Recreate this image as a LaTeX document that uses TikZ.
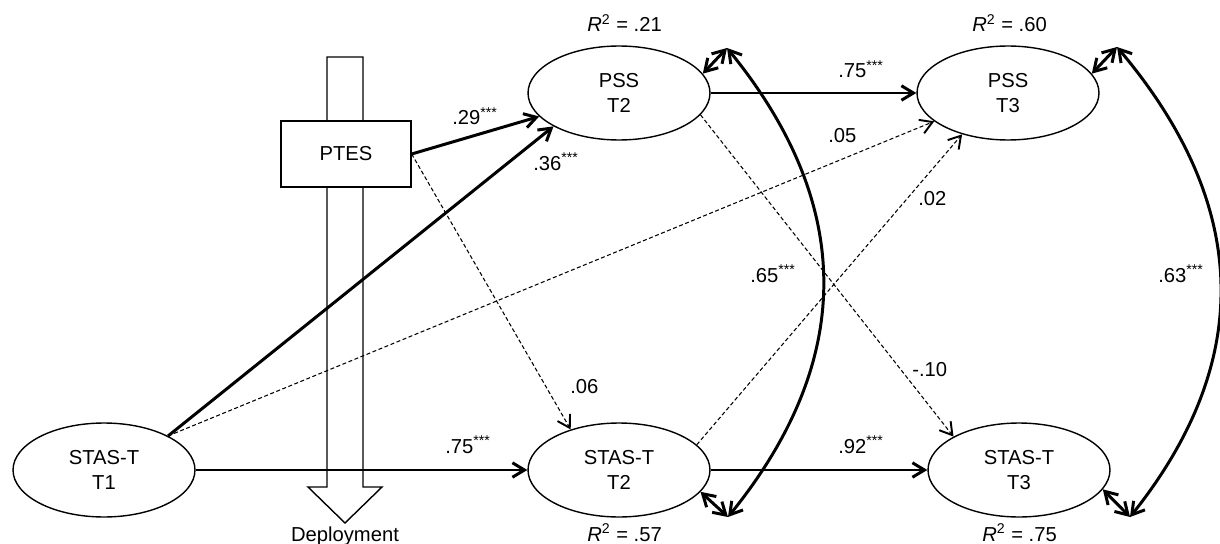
\documentclass[tikz,border=0pt]{standalone}
\usepackage{fontspec}
\setmainfont{Liberation Sans}
\usetikzlibrary{shapes.geometric, arrows.meta}

\begin{document}
\begin{tikzpicture}[x=0.02cm, y=-0.02cm,
    >={Straight Barb[length=2.4mm,width=2.9mm]},
    latent/.style={ellipse, draw, line width=0.8pt, minimum width=3.64cm,
        minimum height=1.88cm, inner sep=0pt, align=center,
        font=\fontsize{11.5}{14.2}\selectfont},
    hop/.style={draw, fill=white, line width=0.8pt, minimum width=2.6cm,
        minimum height=1.32cm, font=\fontsize{11.5}{13}\selectfont},
    strong/.style={->, line width=1.7pt},
    weak/.style={-{Straight Barb[length=2.4mm,width=2.9mm,line width=1.1pt]},
        line width=0.6pt, dash pattern=on 0.08cm off 0.05cm},
    cov/.style={<->, line width=1.7pt},
    coef/.style={anchor=base west, inner sep=0pt, font=\fontsize{11.5}{13}\selectfont}]
    \useasboundingbox (0,0) rectangle (1220,544);

    % Mũi tên khối
    \draw[line width=0.8pt] (327,57) -- (363,57) -- (363,487) -- (382,487)
        -- (345,523) -- (308,487) -- (327,487) -- cycle;
    \node[coef, anchor=base] (deploy) at (345,541) {Deployment};

    \node[latent] (stas1) at (104,470) {STAS-T\\T1};
    \node[latent] (pss2) at (619,93) {PSS\\T2};
    \node[latent] (stas2) at (619,470) {STAS-T\\T2};
    \node[latent] (pss3) at (1008,93) {PSS\\T3};
    \node[latent] (stas3) at (1019,470) {STAS-T\\T3};
    \node[hop] (ptes) at (346,154) {PTES};

    \coordinate (c1) at (727,48);
    \coordinate (c2) at (728,517);
    \coordinate (c3) at (1117,47);
    \coordinate (c4) at (1130,517);

    \draw[strong] (ptes.east) -- (pss2);
    \draw[strong] (stas1.28) -- (pss2.207);
    \draw[strong] (stas1) -- (stas2);
    \draw[strong] (pss2) -- (pss3);
    \draw[strong] (stas2) -- (stas3);
    \draw[weak] (ptes.east) -- (stas2.140);
    \draw[weak] (stas1.28) -- (pss3.201);
    \draw[weak] (stas2.18) -- (pss3.222);
    \draw[weak] (pss2.345) -- (stas3.153);

    % Hiệp phương sai
    \draw[cov] (pss2.13) -- (c1);
    \draw[cov] (stas2.345) -- (c2);
    \draw[cov] (c1) .. controls (855,205) and (855,360) .. (c2);
    \draw[cov] (pss3.13) -- (c3);
    \draw[cov] (stas3.347) -- (c4);
    \draw[cov] (c3) .. controls (1250,205) and (1255,360) .. (c4);

    \node[coef] (b29) at (452,125) {.29\textsuperscript{***}};
    \node[coef] (b36) at (533,170) {.36\textsuperscript{***}};
    \node[coef] (b75a) at (838,78) {.75\textsuperscript{***}};
    \node[coef] (b05) at (828,142) {.05};
    \node[coef] (b02) at (918,205) {.02};
    \node[coef] (b65) at (750,282) {.65\textsuperscript{***}};
    \node[coef] (b10) at (912,376) {-.10};
    \node[coef] (b63) at (1158,282) {.63\textsuperscript{***}};
    \node[coef] (b06) at (570,393) {.06};
    \node[coef] (b75b) at (445,453) {.75\textsuperscript{***}};
    \node[coef] (b92) at (838,453) {.92\textsuperscript{***}};

    \node[coef] (r21) at (587,32) {\textit{R}\textsuperscript{2} = .21};
    \node[coef] (r60) at (972,32) {\textit{R}\textsuperscript{2} = .60};
    \node[coef] (r57) at (587,541) {\textit{R}\textsuperscript{2} = .57};
    \node[coef] (r75) at (982,541) {\textit{R}\textsuperscript{2} = .75};
\end{tikzpicture}
\end{document}
